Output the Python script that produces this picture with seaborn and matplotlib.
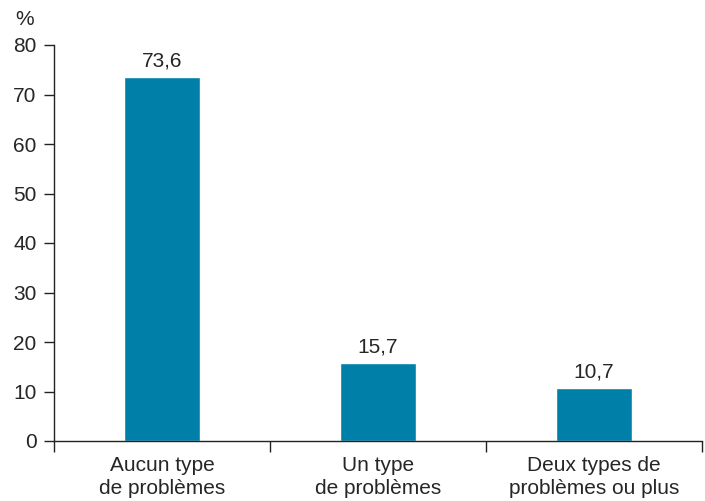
import matplotlib
matplotlib.use("Agg")
import matplotlib.pyplot as plt
import seaborn as sns
import pandas as pd

categories = ["Aucun type\nde problèmes", "Un type\nde problèmes", "Deux types de\nproblèmes ou plus"]
values = [73.6, 15.7, 10.7]
value_labels = ["73,6", "15,7", "10,7"]
y_ticks = [0, 10, 20, 30, 40, 50, 60, 70, 80]

sns.set_theme(style="white")
plt.rcParams["font.family"] = ["Liberation Sans", "DejaVu Sans"]

TEXT = "#262626"
FS = 15

df = pd.DataFrame({"cat": categories, "val": values})

fig = plt.figure(figsize=(7.05, 5.01), dpi=100)
ax = fig.add_axes([54 / 705, 1 - 441 / 501, 648 / 705, 396 / 501])

sns.barplot(data=df, x="cat", y="val", color="#0080A9", width=0.35,
            saturation=1, ax=ax)

ax.set_xlim(-0.5, 2.5)
ax.set_ylim(0, 80)
ax.set_yticks(y_ticks)
ax.set_xlabel("")
ax.set_ylabel("")

for spine in ["top", "right"]:
    ax.spines[spine].set_visible(False)
for spine in ["left", "bottom"]:
    ax.spines[spine].set_color("#222222")
    ax.spines[spine].set_linewidth(1.0)

ax.tick_params(axis="y", left=True, length=7, width=1.0, color="#222222",
               labelsize=FS, labelcolor=TEXT, pad=5.5)
# category separators on the x axis, labels drawn centred between them
ax.set_xticks([-0.5, 0.5, 1.5, 2.5])
ax.set_xticklabels([])
ax.tick_params(axis="x", bottom=True, length=8, width=1.0, color="#222222")
for i, c in enumerate(categories):
    ax.annotate(c, xy=(i, 0), xycoords=("data", "axes fraction"),
                xytext=(0, -10.5), textcoords="offset points",
                ha="center", va="top", fontsize=FS, color=TEXT,
                linespacing=1.3)

for i, (v, lab) in enumerate(zip(values, value_labels)):
    ax.annotate(lab, xy=(i, v), xytext=(0, 7.5), textcoords="offset points",
                ha="center", va="baseline", fontsize=FS, color=TEXT)

fig.text(15 / 705, 1 - 25 / 501, "%", fontsize=FS, color=TEXT,
         ha="left", va="baseline")

fig.savefig("out.png", dpi=100)
